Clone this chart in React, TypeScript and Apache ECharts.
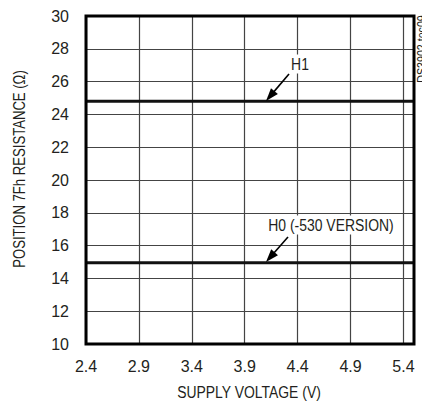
import React, { useEffect, useRef } from "react";
import * as echarts from "echarts";

const xTicks = [2.4, 2.9, 3.4, 3.9, 4.4, 4.9, 5.4];
const xRange = [2.4, 5.5];
const yRange = [10, 30];
const h1Voltage = [2.4, 5.5];
const h1Resistance = [24.8, 24.8];
const h0Voltage = [2.4, 5.5];
const h0Resistance = [14.95, 14.95];
const xTitle = "SUPPLY VOLTAGE (V)";
const yTitle = "POSITION 7Fh RESISTANCE (Ω)";

const FONT = "'Liberation Sans', Arial, sans-serif";
const TXT = "#231f20";
const NARROW = 0.82;

function arrow(x1: number, y1: number, x2: number, y2: number) {
  const dx = x2 - x1, dy = y2 - y1;
  const L = Math.hypot(dx, dy);
  const ux = dx / L, uy = dy / L;
  const hl = 13, hw = 4.5;
  const bx = x2 - ux * hl, by = y2 - uy * hl;
  const px = -uy * hw, py = ux * hw;
  return [
    { type: "line", shape: { x1, y1, x2: bx + ux * 2, y2: by + uy * 2 }, style: { stroke: "#000", lineWidth: 1.6 }, z: 20 },
    { type: "polygon", shape: { points: [[x2, y2], [bx + px, by + py], [bx - px, by - py]] }, style: { fill: "#000" }, z: 20 },
  ];
}

function label(text: string, x: number, y: number, size: number, rotation = 0, bg = false) {
  return {
    type: "text",
    x,
    y,
    rotation,
    scaleX: NARROW,
    z: 20,
    style: {
      text,
      fontFamily: FONT,
      fontSize: size,
      fill: TXT,
      align: "center",
      verticalAlign: "middle",
      ...(bg ? { backgroundColor: "#fff", padding: [1, 3] } : {}),
    },
  };
}

export default function App() {
  const ref = useRef<HTMLDivElement>(null);
  useEffect(() => {
    const chart = echarts.init(ref.current!, null, { renderer: "svg" });
    const mk = (xs: number[], ys: number[]) => xs.map((x, i) => [x, ys[i]]);
    chart.setOption({
      animation: false,
      backgroundColor: "#fff",
      grid: { left: 86, right: 16, top: 16, bottom: 62, show: true, borderColor: "#000", borderWidth: 3, z: 10 },
      xAxis: {
        type: "value",
        min: xRange[0],
        max: xRange[1],
        axisLine: { show: false },
        axisTick: { show: false, customValues: xTicks },
        axisLabel: { customValues: xTicks, fontFamily: FONT, fontSize: 16, color: TXT, margin: 14, formatter: (v: number) => v.toFixed(1) },
        splitLine: { show: true, lineStyle: { color: "#444", width: 1.2 } },
      },
      yAxis: {
        type: "value",
        min: yRange[0],
        max: yRange[1],
        interval: 2,
        axisLine: { show: false },
        axisTick: { show: false },
        axisLabel: { fontFamily: FONT, fontSize: 16, color: TXT, margin: 17 },
        splitLine: { show: true, lineStyle: { color: "#444", width: 1.2 } },
      },
      series: [
        { type: "line", name: "H1", data: mk(h1Voltage, h1Resistance), symbol: "none", lineStyle: { color: "#111", width: 3 }, z: 5 },
        { type: "line", name: "H0", data: mk(h0Voltage, h0Resistance), symbol: "none", lineStyle: { color: "#111", width: 3 }, z: 5 },
      ],
      graphic: [
        label(xTitle, 249, 392, 17),
        label(yTitle, 20, 169, 16, Math.PI / 2),
        label("H1", 300, 64, 17, 0, true),
        ...arrow(289, 74, 266, 101),
        label("H0 (-530 VERSION)", 331, 225, 17, 0, true),
        ...arrow(288, 237, 266, 262),
        label("DS3902 toc09", 422, 49, 13, Math.PI / 2),
      ],
    });
    return () => chart.dispose();
  }, []);
  return <div ref={ref} style={{ width: 430, height: 406, marginLeft: -8, marginTop: -8 }} />;
}
